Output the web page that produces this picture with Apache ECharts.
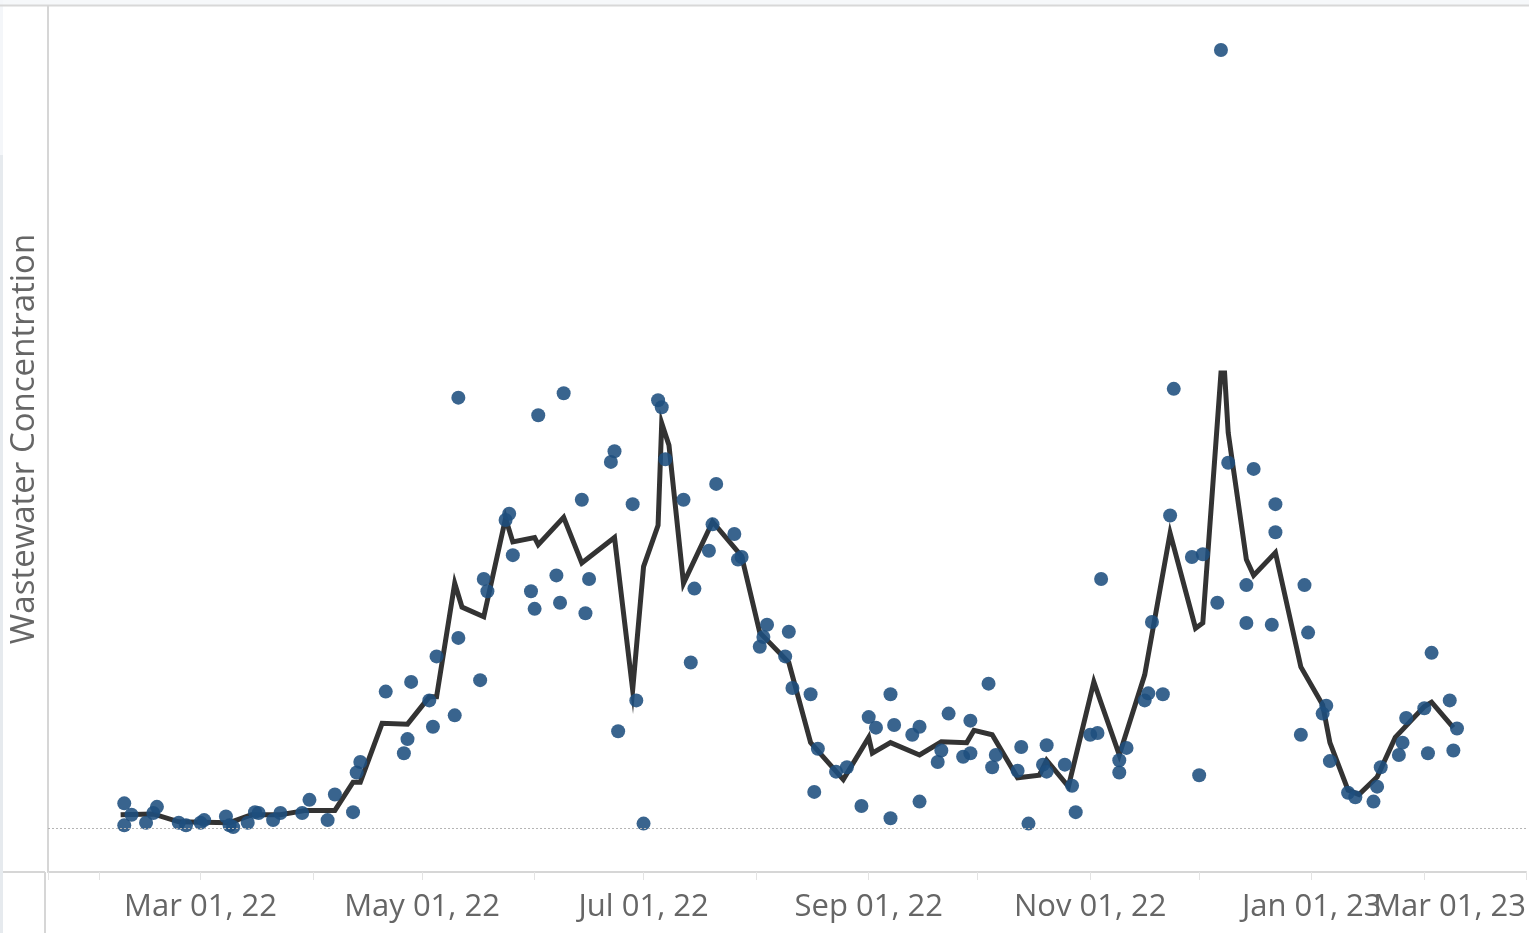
<!DOCTYPE html>
<html>
<head>
<meta charset="utf-8">
<script src="https://cdn.jsdelivr.net/npm/echarts@6/dist/echarts.min.js"></script>
<style>
html,body{margin:0;padding:0;background:#fff;}
#chart{width:1529px;height:933px;}
</style>
</head>
<body>
<div id="chart"></div>
<script>
// Individual wastewater samples (dots)
const sampleDates = [
 '2022-02-08','2022-02-08','2022-02-10','2022-02-14','2022-02-16','2022-02-17','2022-02-23','2022-02-25',
 '2022-03-01','2022-03-02','2022-03-08','2022-03-09','2022-03-10','2022-03-14','2022-03-16','2022-03-17',
 '2022-03-21','2022-03-23','2022-03-29','2022-03-31','2022-04-05','2022-04-07','2022-04-12','2022-04-13',
 '2022-04-14','2022-04-21','2022-04-26','2022-04-27','2022-04-28','2022-05-03','2022-05-04','2022-05-05',
 '2022-05-10','2022-05-11','2022-05-11','2022-05-17','2022-05-18','2022-05-19','2022-05-24','2022-05-25',
 '2022-05-26','2022-05-31','2022-06-01','2022-06-02','2022-06-07','2022-06-08','2022-06-09','2022-06-14',
 '2022-06-15','2022-06-16','2022-06-22','2022-06-23','2022-06-24','2022-06-28','2022-06-29','2022-07-01',
 '2022-07-05','2022-07-06','2022-07-07','2022-07-12','2022-07-14','2022-07-15','2022-07-19','2022-07-20',
 '2022-07-21','2022-07-26','2022-07-27','2022-07-28','2022-08-02','2022-08-03','2022-08-04','2022-08-09',
 '2022-08-10','2022-08-11','2022-08-16','2022-08-17','2022-08-18','2022-08-23','2022-08-26','2022-08-30',
 '2022-09-01','2022-09-03','2022-09-07','2022-09-07','2022-09-08','2022-09-13','2022-09-15','2022-09-15',
 '2022-09-20','2022-09-21','2022-09-23','2022-09-27','2022-09-29','2022-09-29','2022-10-04','2022-10-05',
 '2022-10-06','2022-10-12','2022-10-13','2022-10-15','2022-10-19','2022-10-20','2022-10-20','2022-10-25',
 '2022-10-27','2022-10-28','2022-11-01','2022-11-03','2022-11-04','2022-11-09','2022-11-09','2022-11-11',
 '2022-11-16','2022-11-17','2022-11-18','2022-11-21','2022-11-23','2022-11-24','2022-11-29','2022-12-01',
 '2022-12-02','2022-12-06','2022-12-07','2022-12-09','2022-12-14','2022-12-14','2022-12-16','2022-12-21',
 '2022-12-22','2022-12-22','2022-12-29','2022-12-30','2022-12-31','2023-01-04','2023-01-05','2023-01-06',
 '2023-01-11','2023-01-13','2023-01-18','2023-01-19','2023-01-20','2023-01-25','2023-01-26','2023-01-27',
 '2023-02-01','2023-02-02','2023-02-03','2023-02-08','2023-02-09','2023-02-10'
];
const sampleValues = [
 28,3,15,6,17,24,6,3,
 6,9,13,3,1,6,18,17,
 9,17,17,32,9,38,18,63,
 75,155,85,101,166,145,115,195,
 128,216,489,168,283,269,350,357,
 310,269,249,469,287,256,494,373,
 244,283,416,428,110,368,145,5,
 486,478,419,373,188,272,315,345,
 391,334,305,308,206,217,231,195,
 223,159,152,41,90,64,69,25,
 126,114,152,11,117,106,30,115,
 75,88,130,81,85,122,164,69,
 83,65,92,5,72,64,94,72,
 48,18,106,108,283,63,77,91,
 145,153,234,152,355,499,308,60,
 311,256,884,415,233,276,408,231,
 368,336,106,276,222,130,139,76,
 40,35,30,47,69,83,97,125,
 136,85,199,145,88,113
];

// Average trend line
const trendDates = [
 '2022-02-07','2022-02-16','2022-02-23','2022-03-09','2022-03-15','2022-03-23','2022-03-30','2022-04-07',
 '2022-04-12','2022-04-14','2022-04-20','2022-04-27','2022-05-03','2022-05-05','2022-05-10','2022-05-12',
 '2022-05-18','2022-05-24','2022-05-26','2022-06-01','2022-06-02','2022-06-09','2022-06-14','2022-06-23',
 '2022-06-28','2022-07-01','2022-07-05','2022-07-06','2022-07-08','2022-07-12','2022-07-20','2022-07-28',
 '2022-08-02','2022-08-10','2022-08-16','2022-08-25','2022-09-01','2022-09-02','2022-09-07','2022-09-15',
 '2022-09-21','2022-09-28','2022-09-30','2022-10-05','2022-10-12','2022-10-18','2022-10-20','2022-10-26',
 '2022-11-02','2022-11-04','2022-11-09','2022-11-16','2022-11-23','2022-11-30','2022-12-02','2022-12-07',
 '2022-12-08','2022-12-09','2022-12-14','2022-12-16','2022-12-22','2022-12-29','2023-01-04','2023-01-06',
 '2023-01-11','2023-01-14','2023-01-19','2023-01-24','2023-02-01','2023-02-03','2023-02-09'
];
const trendValues = [
 15,16,7,6,15,15,20,20,
 52,52,119,118,149,149,278,251,
 240,352,325,330,322,353,301,330,
 157,297,344,460,435,278,348,309,
 222,188,97,55,103,85,97,83,
 98,97,111,106,57,60,77,47,
 166,142,83,174,335,227,233,517,
 517,449,305,287,313,183,140,97,
 43,38,58,103,138,143,114
];

const axisStart = '2022-01-18';
const axisEnd = '2023-03-01';
const yTitle = 'Wastewater Concentration';
const monthNames = ['Jan','Feb','Mar','Apr','May','Jun','Jul','Aug','Sep','Oct','Nov','Dec'];

const chart = echarts.init(document.getElementById('chart'), null, {renderer: 'canvas'});
const gridColor = '#d6d6d6';
const textColor = '#666666';
const font = '"Open Sans", "Liberation Sans", Arial, sans-serif';

const option = {
  animation: false,
  backgroundColor: '#ffffff',
  grid: {left: 45, right: 0, top: 6, bottom: 61, containLabel: false},
  xAxis: {
    type: 'time',
    min: axisStart,
    max: axisEnd,
    splitNumber: 14,
    minInterval: 28 * 86400000,
    maxInterval: 31 * 86400000,
    axisLine: {show: true, onZero: false, lineStyle: {color: gridColor, width: 2}},
    axisTick: {show: true, length: 8, lineStyle: {color: '#e3e3e3', width: 1}},
    splitLine: {show: false},
    axisLabel: {
      show: true,
      margin: 20,
      color: textColor,
      fontSize: 31,
      fontFamily: font,
      hideOverlap: false,
      showMinLabel: true,
      showMaxLabel: true,
      alignMaxLabel: 'right',
      formatter: function (value) {
        const d = new Date(value);
        if (d.getDate() !== 1 || d.getMonth() % 2 !== 0) return '';
        const yy = String(d.getFullYear()).slice(2);
        return monthNames[d.getMonth()] + ' 01, ' + yy;
      }
    }
  },
  yAxis: {
    type: 'value',
    min: -50,
    max: 934,
    name: yTitle,
    nameLocation: 'middle',
    nameGap: 7,
    nameRotate: 90,
    nameTextStyle: {color: textColor, fontSize: 33, fontFamily: font},
    axisLine: {show: true, onZero: false, lineStyle: {color: gridColor, width: 2}},
    axisTick: {show: false},
    axisLabel: {show: false},
    splitLine: {show: false}
  },
  graphic: [
    {type: 'rect', silent: true, z: -1, shape: {x: 0, y: 0, width: 1529, height: 5}, style: {fill: '#f6f8fa'}},
    {type: 'line', silent: true, shape: {x1: 0, y1: 5.5, x2: 1529, y2: 5.5}, style: {stroke: '#d8d8d8', lineWidth: 2}},
    {type: 'rect', silent: true, z: -1, shape: {x: 0, y: 0, width: 3, height: 155}, style: {fill: '#f4f6f9'}},
    {type: 'rect', silent: true, z: -1, shape: {x: 0, y: 155, width: 3, height: 778}, style: {fill: '#e6eaee'}},
    {type: 'line', silent: true, shape: {x1: 3, y1: 872, x2: 45, y2: 872}, style: {stroke: gridColor, lineWidth: 2}},
    {type: 'line', silent: true, shape: {x1: 45, y1: 872, x2: 45, y2: 933}, style: {stroke: gridColor, lineWidth: 2}}
  ],
  series: [
    {
      type: 'line',
      name: 'Average',
      data: trendDates.map((d, i) => [d, trendValues[i]]),
      showSymbol: false,
      symbol: 'none',
      z: 2,
      lineStyle: {color: '#333333', width: 5, join: 'miter'},
      markLine: {
        silent: true,
        symbol: 'none',
        label: {show: false},
        lineStyle: {color: '#b5b5b5', type: [2, 2], width: 1},
        data: [{yAxis: 0}]
      }
    },
    {
      type: 'scatter',
      name: 'Samples',
      data: sampleDates.map((d, i) => [d, sampleValues[i]]),
      symbolSize: 14,
      z: 3,
      itemStyle: {color: '#1e4f7e', opacity: 0.88}
    }
  ]
};
chart.setOption(option);
</script>
</body>
</html>
